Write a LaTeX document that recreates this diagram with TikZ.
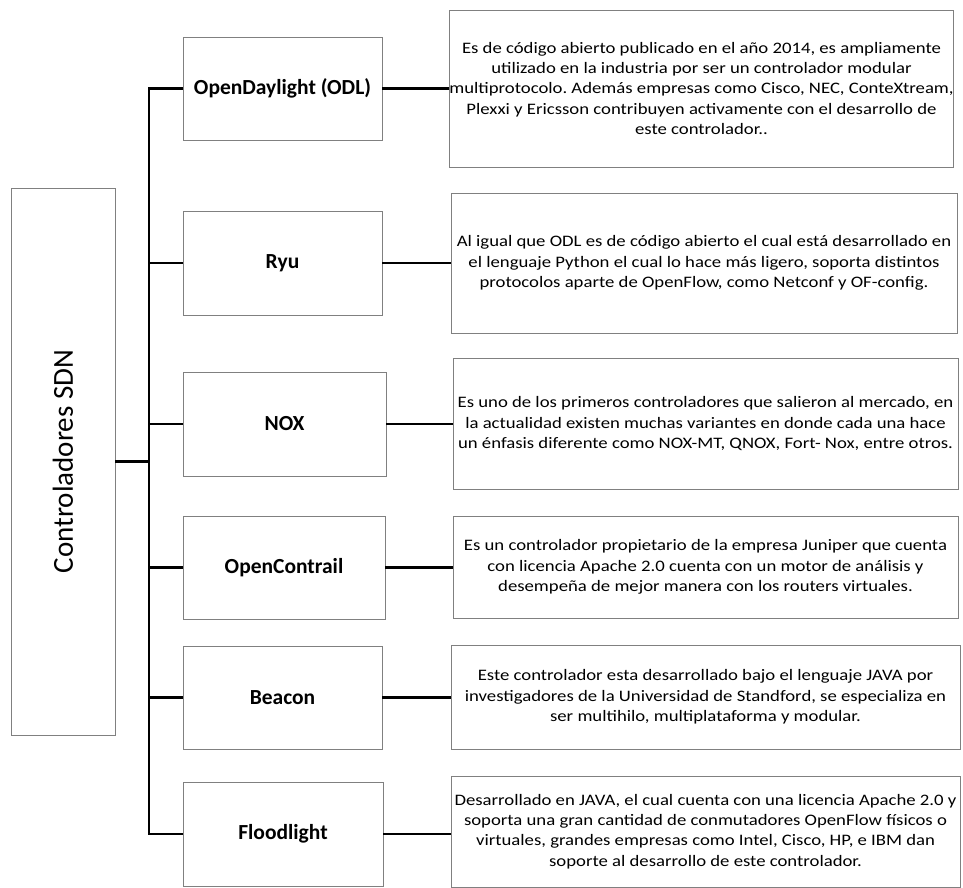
\documentclass[tikz,border=0pt]{standalone}
\usepackage{fontspec}
\usepackage{graphicx}
\setmainfont{Carlito}
\newfontfamily\descfont[FakeStretch=1.17]{Carlito}
\frenchspacing

\tikzset{
    box/.style={draw=gray, line width=0.9pt, inner sep=0pt, align=center},
    ctrl/.style={box, font=\bfseries\fontsize{21.5}{25}\selectfont},
    info/.style={box, font=\descfont\fontsize{16}{20.3}\selectfont},
    link/.style={line width=2.6pt}
}

\begin{document}
\begin{tikzpicture}[x=1pt, y=-1pt]
    \useasboundingbox (0,0) rectangle (963,887);

    % raiz
    \node [box, minimum width=104pt, minimum height=547pt, font=\fontsize{29}{34}\selectfont] (root) at (63,461.5)
        {\rotatebox{90}{Controladores SDN}};

    % controladores
    \node [ctrl, minimum width=199pt, minimum height=103pt] (odl) at (282.5,88.5) {OpenDaylight (ODL)};
    \node [ctrl, minimum width=199pt, minimum height=104pt] (ryu) at (282.5,263) {Ryu};
    \node [ctrl, minimum width=203pt, minimum height=104pt] (nox) at (284.5,424) {NOX};
    \node [ctrl, minimum width=202pt, minimum height=103pt] (contrail) at (284,567.5) {OpenContrail};
    \node [ctrl, minimum width=199pt, minimum height=103pt] (beacon) at (282.5,697.5) {Beacon};
    \node [ctrl, minimum width=200pt, minimum height=104pt] (flood) at (283,834) {Floodlight};

    % descripciones
    \node [info, minimum width=503pt, minimum height=157pt] (odlinfo) at (701.5,88.5)
        {Es de código abierto publicado en el año 2014, es ampliamente\\
         utilizado en la industria por ser un controlador modular\\
         multiprotocolo. Además empresas como Cisco, NEC, ConteXtream,\\
         Plexxi y Ericsson contribuyen activamente con el desarrollo de\\
         este controlador..};
    \node [info, minimum width=506pt, minimum height=140pt] (ryuinfo) at (704,263)
        {Al igual que ODL es de código abierto el cual está desarrollado en\\
         el lenguaje Python el cual lo hace más ligero, soporta distintos\\
         protocolos aparte de OpenFlow, como Netconf y OF-config.};
    \node [info, minimum width=505pt, minimum height=131pt] (noxinfo) at (705.5,423.5)
        {Es uno de los primeros controladores que salieron al mercado, en\\
         la actualidad existen muchas variantes en donde cada una hace\\
         un énfasis diferente como NOX-MT, QNOX, Fort- Nox, entre otros.};
    \node [info, minimum width=505pt, minimum height=102pt] (contrailinfo) at (705.5,567)
        {Es un controlador propietario de la empresa Juniper que cuenta\\
         con licencia Apache 2.0 cuenta con un motor de análisis y\\
         desempeña de mejor manera con los routers virtuales.};
    \node [info, minimum width=509pt, minimum height=104pt] (beaconinfo) at (705.5,697)
        {Este controlador esta desarrollado bajo el lenguaje JAVA por\\
         investigadores de la Universidad de Standford, se especializa en\\
         ser multihilo, multiplataforma y modular.};
    \node [info, minimum width=509pt, minimum height=111pt] (floodinfo) at (705.5,831.5)
        {Desarrollado en JAVA, el cual cuenta con una licencia Apache 2.0 y\\
         soporta una gran cantidad de conmutadores OpenFlow físicos o\\
         virtuales, grandes empresas como Intel, Cisco, HP, e IBM dan\\
         soporte al desarrollo de este controlador.};

    % conexiones
    \coordinate (bustop) at (149,88.5);
    \coordinate (busbot) at (149,834);
    \draw [link] (root.east) -- (root.east -| bustop);
    \draw [link, line cap=rect] (bustop) -- (busbot);
    \draw [link] (bustop) -- (odl.west);
    \draw [link] (ryu.west -| bustop) -- (ryu.west);
    \draw [link] (nox.west -| bustop) -- (nox.west);
    \draw [link] (contrail.west -| bustop) -- (contrail.west);
    \draw [link] (beacon.west -| bustop) -- (beacon.west);
    \draw [link] (busbot) -- (flood.west);

    \draw [link] (odl.east) -- (odl.east -| odlinfo.west);
    \draw [link] (ryu.east) -- (ryu.east -| ryuinfo.west);
    \draw [link] (nox.east) -- (nox.east -| noxinfo.west);
    \draw [link] (contrail.east) -- (contrail.east -| contrailinfo.west);
    \draw [link] (beacon.east) -- (beacon.east -| beaconinfo.west);
    \draw [link] (flood.east) -- (flood.east -| floodinfo.west);
\end{tikzpicture}
\end{document}
